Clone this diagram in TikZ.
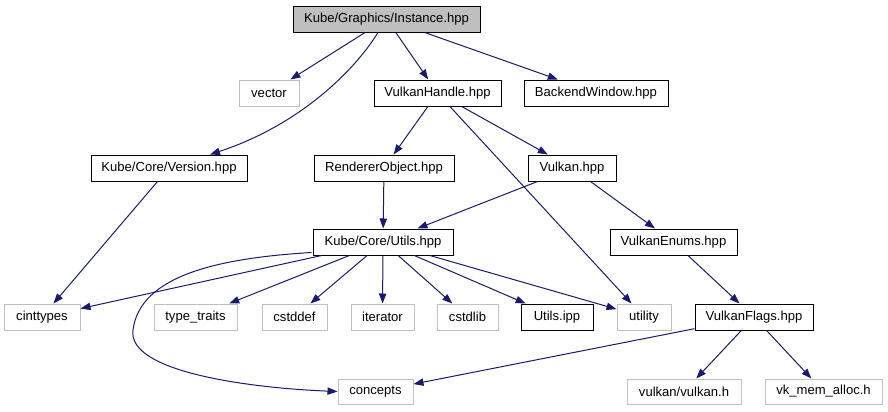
\documentclass[tikz,border=0pt]{standalone}
\usepackage{fontspec}
\setmainfont{Liberation Sans}
\usetikzlibrary{arrows.meta,calc}
\definecolor{edgeblue}{HTML}{191970}
\definecolor{greyf}{HTML}{BFBFBF}
\begin{document}
\begin{tikzpicture}[x=0.75pt,y=-0.75pt,font=\fontsize{9.8pt}{12pt}\selectfont,
  nodebox/.style={draw=black, line width=0.75pt, inner sep=0pt, minimum height=19.5pt, text=black},
  extbox/.style={nodebox, draw=greyf},
  dep/.style={draw=edgeblue, line width=0.75pt, -{Triangle[length=7.5pt,width=5.5pt]}}]
\useasboundingbox (0,0) rectangle (888,411);
% nodes
\node[nodebox, fill=greyf, minimum width=187*0.75pt] (inst) at (386.5,19) {Kube/Graphics/Instance.hpp};
\node[extbox, minimum width=60*0.75pt] (vector) at (269,93) {vector};
\node[nodebox, minimum width=127*0.75pt] (vh) at (437.5,93) {VulkanHandle.hpp};
\node[nodebox, minimum width=144*0.75pt] (bw) at (596,93) {BackendWindow.hpp};
\node[nodebox, minimum width=156*0.75pt] (ver) at (169,168) {Kube/Core/Version.hpp};
\node[nodebox, minimum width=140*0.75pt] (ro) at (384,168) {RendererObject.hpp};
\node[nodebox, minimum width=88*0.75pt] (vk) at (572,168) {Vulkan.hpp};
\node[nodebox, minimum width=140*0.75pt] (utils) at (383,242) {Kube/Core/Utils.hpp};
\node[nodebox, minimum width=127*0.75pt] (ve) at (673.5,242) {VulkanEnums.hpp};
\node[extbox, minimum width=76*0.75pt] (cint) at (42,317) {cinttypes};
\node[extbox, minimum width=83*0.75pt] (tt) at (195.5,317) {type\_traits};
\node[extbox, minimum width=65*0.75pt] (cstddef) at (294.5,317) {cstddef};
\node[extbox, minimum width=63*0.75pt] (iter) at (382.5,317) {iterator};
\node[extbox, minimum width=61*0.75pt] (cstdlib) at (467.5,317) {cstdlib};
\node[nodebox, minimum width=72*0.75pt] (uipp) at (557,317) {Utils.ipp};
\node[extbox, minimum width=54*0.75pt] (utility) at (644,317) {utility};
\node[nodebox, minimum width=118*0.75pt] (vf) at (754,317) {VulkanFlags.hpp};
\node[extbox, minimum width=75*0.75pt, minimum height=18.75pt] (concepts) at (375.5,391.5) {concepts};
\node[extbox, minimum width=114*0.75pt, minimum height=18.75pt] (vulkanh) at (684,391.5) {vulkan/vulkan.h};
\node[extbox, minimum width=117*0.75pt, minimum height=18.75pt] (vma) at (823.5,391.5) {vk\_mem\_alloc.h};
% edges
\draw[dep] (inst) -- (vector);
\draw[dep] ($(inst.south)+(-8.5,0)$) .. controls (355,70) and (300,125) .. ($(ver.north)+(41,0)$);
\draw[dep] (inst) -- (vh);
\draw[dep] (inst) -- (bw);
\draw[dep] (vh) -- (ro);
\draw[dep] (vh) -- (vk);
\draw[dep] (vh) -- (utility);
\draw[dep] (ver) -- (cint);
\draw[dep] (ro) -- (utils);
\draw[dep] (vk) -- (utils);
\draw[dep] (vk) -- (ve);
\draw[dep] ($(utils.south west)+(-1,-3)$) .. controls (220,258) and (140,275) .. (133,330)
  .. controls (127,372) and (250,388) .. (concepts.west);
\draw[dep] (utils) -- (cint);
\draw[dep] (utils) -- (tt);
\draw[dep] (utils) -- (cstddef);
\draw[dep] (utils) -- (iter);
\draw[dep] (utils) -- (cstdlib);
\draw[dep] (utils) -- (uipp);
\draw[dep] (utils) -- (utility);
\draw[dep] (ve) -- (vf);
\draw[dep] (vf) -- (concepts);
\draw[dep] (vf) -- (vulkanh);
\draw[dep] (vf) -- (vma);
\end{tikzpicture}
\end{document}
